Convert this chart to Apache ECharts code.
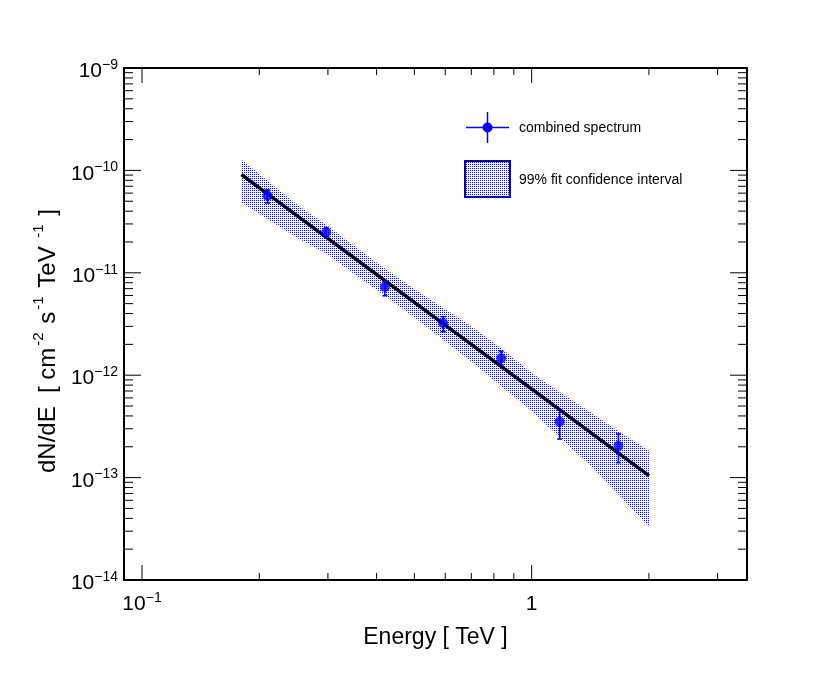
<!DOCTYPE html>
<html>
<head>
<meta charset="utf-8">
<script src="https://cdn.jsdelivr.net/npm/echarts@6/dist/echarts.min.js"></script>
<style>
html, body { margin: 0; padding: 0; background: #fff; }
#chart { width: 830px; height: 683px; }
</style>
</head>
<body>
<div id="chart"></div>
<script>
// measured points (TeV, cm^-2 s^-1 TeV^-1)
var energy = [0.21, 0.297, 0.42, 0.593, 0.835, 1.18, 1.67];
var flux = [5.66e-11, 2.49e-11, 7.26e-12, 3.21e-12, 1.46e-12, 3.52e-13, 2.04e-13];
var fluxLow = [4.81e-11, 2.24e-11, 5.97e-12, 2.66e-12, 1.26e-12, 2.38e-13, 1.40e-13];
var fluxHigh = [6.44e-11, 2.74e-11, 8.18e-12, 3.73e-12, 1.72e-12, 4.57e-13, 2.67e-13];

// power law fit
var fitEnergy = [0.18, 2.0];
var fitFlux = [9.1e-11, 1.045e-13];

// 99% fit confidence band
var bandEnergy = [0.18, 0.25, 0.3, 0.35, 0.42, 0.5, 0.6, 0.7, 0.85, 1.0, 1.2, 1.4, 1.7, 2.0];
var bandHigh = [1.27e-10, 4.62e-11, 2.86e-11, 1.84e-11, 1.10e-11, 6.9e-12, 4.41e-12, 3.0e-12, 1.74e-12, 1.05e-12, 6.57e-13, 4.46e-13, 2.71e-13, 1.83e-13];
var bandLow = [4.85e-11, 2.20e-11, 1.51e-11, 9.8e-12, 6.0e-12, 3.68e-12, 2.15e-12, 1.36e-12, 7.4e-13, 4.47e-13, 2.34e-13, 1.36e-13, 6.4e-14, 3.32e-14];

// axis ranges and ticks
var xMin = 0.0899, xMax = 3.57;
var yMin = 1e-14, yMax = 1e-9;
var xMajorTicks = [0.1, 1];
var xMinorTicks = [0.2, 0.3, 0.4, 0.5, 0.6, 0.7, 0.8, 0.9, 2, 3];
var yMajorTicks = [1e-14, 1e-13, 1e-12, 1e-11, 1e-10, 1e-9];
var yMinorTicks = [];
for (var d = -14; d < -9; d++) {
    for (var k = 2; k <= 9; k++) yMinorTicks.push(k * Math.pow(10, d));
}

var FONT = 'Liberation Sans';
var BLUE = '#0000ff';

// dotted fill like the ROOT fill style
var pat = document.createElement('canvas');
pat.width = 2; pat.height = 2;
var pctx = pat.getContext('2d');
pctx.fillStyle = BLUE;
pctx.fillRect(0, 0, 1, 1);
var dotFill = { image: pat, repeat: 'repeat' };

function powLabel(v) {
    var e = Math.log10(v);
    var r = Math.round(e);
    if (Math.abs(e - r) > 1e-6) return '';
    if (r === 0) return '{b|1}';
    return '{b|10}{e|' + (r < 0 ? '\u2212' + (-r) : r) + '}';
}

var labelRich = {
    b: { fontSize: 21, fontFamily: FONT, color: '#000', lineHeight: 28, verticalAlign: 'bottom' },
    e: { fontSize: 14, fontFamily: FONT, color: '#000', lineHeight: 28, verticalAlign: 'top', padding: [4, 0, 0, 0] }
};

function makeAxis(min, max, pos, withLabels) {
    return {
        type: 'log',
        logBase: 10,
        min: min,
        max: max,
        position: pos,
        axisLine: { show: true, onZero: false, lineStyle: { color: '#000', width: 2 } },
        axisTick: { show: false },
        axisLabel: withLabels ? { formatter: powLabel, margin: 6, rich: labelRich } : { show: false },
        splitLine: { show: false },
        minorTick: { show: false },
        minorSplitLine: { show: false }
    };
}

var xBottom = makeAxis(xMin, xMax, 'bottom', true);
xBottom.axisLabel.margin = 7;
xBottom.name = 'Energy [ TeV ]';
xBottom.nameLocation = 'middle';
xBottom.nameGap = 46;
xBottom.nameTextStyle = { fontSize: 23, fontFamily: FONT, color: '#000' };

var yLeft = makeAxis(yMin, yMax, 'left', true);
yLeft.name = '{t|dN/dE  [ cm}{s|-2}{t| s}{s|-1}{t| TeV }{s|-1}{t| ]}';
yLeft.nameLocation = 'middle';
yLeft.nameGap = 59;
yLeft.nameTextStyle = {
    padding: [0, 34, 0, 0],
    rich: {
        t: { fontSize: 24, fontFamily: FONT, color: '#000', lineHeight: 30, verticalAlign: 'bottom' },
        s: { fontSize: 15, fontFamily: FONT, color: '#000', lineHeight: 30, verticalAlign: 'top', padding: [1, 2, 0, 2] }
    }
};

// ticks along a pair of opposite axes, drawn through the axis scale
function xTickSeries(values, len) {
    return {
        type: 'custom',
        silent: true,
        z: 6,
        data: values.map(function (v) { return [v, yMin]; }),
        renderItem: function (params, api) {
            var b = api.coord([api.value(0), yMin]);
            var t = api.coord([api.value(0), yMax]);
            var st = { stroke: '#000', lineWidth: 1 };
            return {
                type: 'group',
                children: [
                    { type: 'line', shape: { x1: b[0], y1: b[1], x2: b[0], y2: b[1] - len }, style: st },
                    { type: 'line', shape: { x1: t[0], y1: t[1], x2: t[0], y2: t[1] + len }, style: st }
                ]
            };
        }
    };
}

function yTickSeries(values, len) {
    return {
        type: 'custom',
        silent: true,
        z: 6,
        data: values.map(function (v) { return [xMin, v]; }),
        renderItem: function (params, api) {
            var l = api.coord([xMin, api.value(1)]);
            var r = api.coord([xMax, api.value(1)]);
            var st = { stroke: '#000', lineWidth: 1 };
            return {
                type: 'group',
                children: [
                    { type: 'line', shape: { x1: l[0], y1: l[1], x2: l[0] + len, y2: l[1] }, style: st },
                    { type: 'line', shape: { x1: r[0], y1: r[1], x2: r[0] - len, y2: r[1] }, style: st }
                ]
            };
        }
    };
}

var chart = echarts.init(document.getElementById('chart'));

var option = {
    animation: false,
    backgroundColor: '#fff',
    grid: { left: 124, right: 83, top: 68, bottom: 103, containLabel: false },
    xAxis: [xBottom, makeAxis(xMin, xMax, 'top', false)],
    yAxis: [yLeft, makeAxis(yMin, yMax, 'right', false)],
    series: [
        {
            // confidence band
            type: 'custom',
            silent: true,
            z: 1,
            data: bandEnergy.map(function (e, i) { return [e, bandLow[i], bandHigh[i]]; }),
            encode: { x: 0, y: [1, 2] },
            renderItem: function (params, api) {
                if (params.dataIndex !== 0) return null;
                var pts = [];
                for (var i = 0; i < bandEnergy.length; i++) pts.push(api.coord([bandEnergy[i], bandHigh[i]]));
                for (var j = bandEnergy.length - 1; j >= 0; j--) pts.push(api.coord([bandEnergy[j], bandLow[j]]));
                return { type: 'polygon', shape: { points: pts }, style: { fill: dotFill } };
            }
        },
        {
            // fit
            type: 'line',
            z: 3,
            data: fitEnergy.map(function (e, i) { return [e, fitFlux[i]]; }),
            showSymbol: false,
            lineStyle: { color: '#000', width: 3.5 }
        },
        {
            // error bars
            type: 'custom',
            z: 4,
            data: energy.map(function (e, i) { return [e, fluxLow[i], fluxHigh[i]]; }),
            encode: { x: 0, y: [1, 2] },
            renderItem: function (params, api) {
                var lo = api.coord([api.value(0), api.value(1)]);
                var hi = api.coord([api.value(0), api.value(2)]);
                var c = 2.5;
                var st = { stroke: BLUE, lineWidth: 1.6 };
                return {
                    type: 'group',
                    children: [
                        { type: 'line', shape: { x1: lo[0], y1: lo[1], x2: hi[0], y2: hi[1] }, style: st },
                        { type: 'line', shape: { x1: lo[0] - c, y1: lo[1], x2: lo[0] + c, y2: lo[1] }, style: st },
                        { type: 'line', shape: { x1: hi[0] - c, y1: hi[1], x2: hi[0] + c, y2: hi[1] }, style: st }
                    ]
                };
            }
        },
        {
            type: 'scatter',
            z: 5,
            data: energy.map(function (e, i) { return [e, flux[i]]; }),
            symbol: 'circle',
            symbolSize: 10,
            itemStyle: { color: BLUE }
        },
        xTickSeries(xMajorTicks, 15),
        xTickSeries(xMinorTicks, 7),
        yTickSeries(yMajorTicks, 17),
        yTickSeries(yMinorTicks, 9)
    ],
    graphic: [
        { type: 'line', shape: { x1: 466, y1: 127.5, x2: 509, y2: 127.5 }, style: { stroke: BLUE, lineWidth: 1.5 } },
        { type: 'line', shape: { x1: 487.5, y1: 112, x2: 487.5, y2: 143 }, style: { stroke: BLUE, lineWidth: 1.5 } },
        { type: 'circle', shape: { cx: 487.5, cy: 127.5, r: 5 }, style: { fill: BLUE } },
        { type: 'text', x: 519, y: 128, style: { text: 'combined spectrum', fontSize: 14, fontFamily: FONT, fill: '#000', verticalAlign: 'middle' } },
        { type: 'rect', shape: { x: 465, y: 161, width: 45, height: 36 }, style: { fill: dotFill, stroke: '#0000a0', lineWidth: 2 } },
        { type: 'text', x: 519, y: 180, style: { text: '99% fit confidence interval', fontSize: 14, fontFamily: FONT, fill: '#000', verticalAlign: 'middle' } }
    ]
};

chart.setOption(option);
</script>
</body>
</html>
